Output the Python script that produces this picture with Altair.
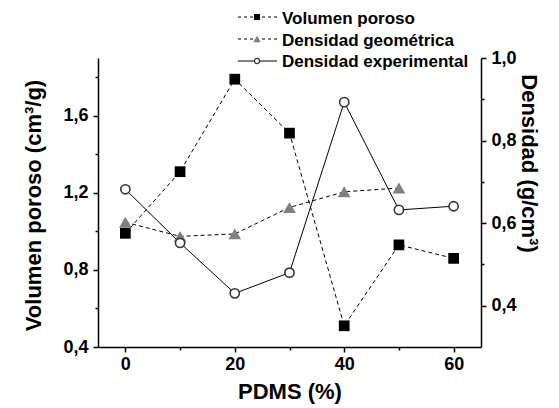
import altair as alt
import pandas as pd

# ---- data ----
pdms = [0, 10, 20, 30, 40, 50, 60]
vol_poroso = [0.99, 1.31, 1.79, 1.51, 0.51, 0.93, 0.86]
pdms_geo = [0, 10, 20, 30, 40, 50]
dens_geo = [0.602, 0.568, 0.574, 0.638, 0.676, 0.685]
dens_exp = [0.682, 0.552, 0.430, 0.480, 0.893, 0.632, 0.641]

x_ticks = [0, 10, 20, 30, 40, 50, 60]
left_ticks = [0.4, 0.6, 0.8, 1.0, 1.2, 1.4, 1.6, 1.8]
right_ticks = [0.4, 0.5, 0.6, 0.7, 0.8, 0.9, 1.0]

names = ["Volumen poroso", "Densidad geométrica", "Densidad experimental"]

FONT = "Liberation Sans"

df_vol = pd.DataFrame({"pdms": pdms, "v": vol_poroso})
df_geo = pd.DataFrame({"pdms": pdms_geo, "d": dens_geo})
df_exp = pd.DataFrame({"pdms": pdms, "d": dens_exp})

axis_common = dict(
    grid=False, domainColor="black", domainWidth=1.5, tickColor="black", tickWidth=1.5,
    labelFont=FONT, labelFontWeight="bold", labelFontSize=18, labelColor="black",
    titleFont=FONT, titleFontWeight="bold", titleFontSize=22, titleColor="black",
)

x_enc = alt.X(
    "pdms:Q",
    scale=alt.Scale(domain=[-5, 65], nice=False, zero=False),
    axis=alt.Axis(
        values=x_ticks,
        labelExpr="datum.value % 20 === 0 ? datum.label : ''",
        tickSize={"condition": {"test": "datum.value % 20 === 0", "value": 5}, "value": 3},
        labelPadding=3,
        title="PDMS (%)",
        titleX=191.5, titleY=51, titleAlign="center", titleBaseline="alphabetic",
        **axis_common,
    ),
)

y_left = alt.Y(
    "v:Q",
    scale=alt.Scale(domain=[0.4, 1.9], nice=False, zero=False),
    axis=alt.Axis(
        orient="left",
        values=left_ticks,
        labelExpr="round(datum.value*10) % 4 === 0 ? replace(format(datum.value, '.1f'), '.', ',') : ''",
        tickSize={"condition": {"test": "round(datum.value*10) % 4 === 0", "value": 5}, "value": 3},
        labelPadding=5,
        title="Volumen poroso (cm³/g)",
        titleAngle=270, titleX=-65, titleY=147, titleAlign="center", titleBaseline="middle",
        **axis_common,
    ),
)

y_right = alt.Y(
    "d:Q",
    scale=alt.Scale(domain=[0.3, 1.0], nice=False, zero=False),
    axis=alt.Axis(
        orient="right",
        values=right_ticks,
        labelExpr="round(datum.value*10) % 2 === 0 ? replace(format(datum.value, '.1f'), '.', ',') : ''",
        tickSize={"condition": {"test": "round(datum.value*10) % 2 === 0", "value": 5}, "value": 3},
        labelPadding=5,
        title="Densidad (g/cm³)",
        titleAngle=90, titleX=47, titleY=105, titleAlign="center", titleBaseline="middle",
        **axis_common,
    ),
)

vol_line = alt.Chart(df_vol).mark_line(color="black", strokeWidth=1, strokeDash=[4, 3]).encode(x=x_enc, y=y_left)
vol_pts = alt.Chart(df_vol).mark_point(shape="square", filled=True, color="black", size=115, opacity=1).encode(x=x_enc, y=y_left)
left = alt.layer(vol_line, vol_pts)

geo_line = alt.Chart(df_geo).mark_line(color="black", strokeWidth=1, strokeDash=[4, 3]).encode(x=x_enc, y=y_right)
geo_pts = alt.Chart(df_geo).mark_point(shape="triangle-up", filled=True, color="#808080", size=160, opacity=1).encode(x=x_enc, y=y_right)
exp_line = alt.Chart(df_exp).mark_line(color="black", strokeWidth=1).encode(x=x_enc, y=y_right)
exp_pts = alt.Chart(df_exp).mark_point(shape="circle", filled=False, fill="white", stroke="#333333",
                                       strokeWidth=1.6, size=85, opacity=1).encode(x=x_enc, y=y_right)
right = alt.layer(geo_line, exp_line, geo_pts, exp_pts)

# ---- hand-made legend (top) ----
leg_layers = []
leg_styles = [
    dict(dash=[3, 3], shape="square", filled=True, color="black", size=36),
    dict(dash=[3, 3], shape="triangle-up", filled=True, color="#808080", size=55),
    dict(dash=None, shape="circle", filled=False, color="#333333", size=26),
]
sym_y = [-41, -19, 3]
txt_y = [-34, -12, 9]
for name, st, sy, ty in zip(names, leg_styles, sym_y, txt_y):
    d = pd.DataFrame({"label": [name]})
    rule_kw = dict(color="black", strokeWidth=1)
    if st["dash"]:
        rule_kw["strokeDash"] = st["dash"]
    leg_layers.append(alt.Chart(d).mark_rule(**rule_kw).encode(
        x=alt.value(140), x2=alt.value(179), y=alt.value(sy)))
    if st["filled"]:
        pt = alt.Chart(d).mark_point(shape=st["shape"], filled=True, color=st["color"], size=st["size"], opacity=1)
    else:
        pt = alt.Chart(d).mark_point(shape=st["shape"], filled=False, fill="white", stroke=st["color"],
                                     strokeWidth=1.2, size=st["size"], opacity=1)
    leg_layers.append(pt.encode(x=alt.value(159), y=alt.value(sy)))
    leg_layers.append(alt.Chart(d).mark_text(align="left", baseline="alphabetic", font=FONT,
                                             fontWeight="bold", fontSize=17, color="black").encode(
        x=alt.value(184), y=alt.value(ty), text="label:N"))
legend = alt.layer(*leg_layers)

chart = alt.layer(left, right, legend).resolve_scale(y="independent").properties(
    width=383, height=289,
    autosize=alt.AutoSizeParams(type="none"),
    padding={"left": 98, "top": 58, "right": 78, "bottom": 61},
    background="white",
).configure_view(stroke=None)

chart.save("out.html", embed_options={"renderer": "svg", "actions": False})
